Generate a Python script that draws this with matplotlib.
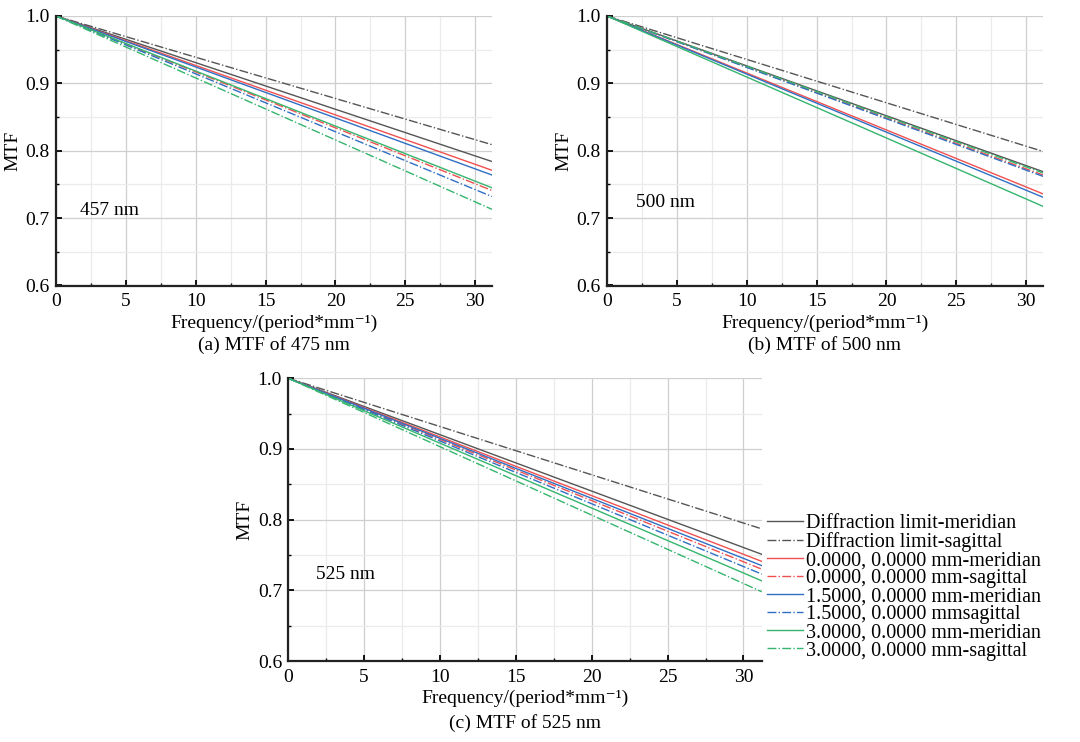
import numpy as np
import matplotlib
matplotlib.use('Agg')
import matplotlib.pyplot as plt
from matplotlib.ticker import MultipleLocator, FormatStrFormatter

plt.rcParams['font.family'] = ['Liberation Serif', 'DejaVu Serif']

# частоты (period/mm) – кривые почти прямые, поэтому концы
freq = [0, 31.2]

labels = ['Diffraction limit-meridian', 'Diffraction limit-sagittal',
          '0.0000, 0.0000 mm-meridian', '0.0000, 0.0000 mm-sagittal',
          '1.5000, 0.0000 mm-meridian', '1.5000, 0.0000 mmsagittal',
          '3.0000, 0.0000 mm-meridian', '3.0000, 0.0000 mm-sagittal']
colors = ['#555555', '#555555', '#f0504f', '#f0504f',
          '#2f6fc4', '#2f6fc4', '#35b56e', '#35b56e']
styles = ['-', '-.', '-', '-.', '-', '-.', '-', '-.']

# MTF на краю (31.2), порядок как в labels
mtf_475 = [0.784, 0.809, 0.771, 0.741, 0.764, 0.732, 0.745, 0.713]
mtf_500 = [0.769, 0.799, 0.736, 0.764, 0.731, 0.762, 0.7175, 0.767]
mtf_525 = [0.751, 0.787, 0.741, 0.730, 0.735, 0.723, 0.7135, 0.698]

panels = [
    (mtf_475, '457 nm', (1.7, 0.704), '(a) MTF of 475 nm',
     [56/1080, 1 - 285.5/742, 436/1080, (285.5 - 16)/742]),
    (mtf_500, '500 nm', (2.1, 0.716), '(b) MTF of 500 nm',
     [607/1080, 1 - 285.5/742, 436/1080, (285.5 - 16)/742]),
    (mtf_525, '525 nm', (1.8, 0.716), '(c) MTF of 525 nm',
     [288.3/1080, 1 - 661/742, 473.4/1080, (661 - 378.3)/742]),
]

fig = plt.figure(figsize=(10.8, 7.42), dpi=100)

for ends, wl, wl_pos, title, rect in panels:
    ax = fig.add_axes(rect)
    for end, c, ls, lab in zip(ends, colors, styles, labels):
        ax.plot(freq, [1.0, end], color=c, linestyle=ls, linewidth=1.0, label=lab)
    ax.set_xlim(0, 31.2)
    ax.set_ylim(0.6, 1.0)
    ax.xaxis.set_major_locator(MultipleLocator(5))
    ax.xaxis.set_minor_locator(MultipleLocator(2.5))
    ax.yaxis.set_major_locator(MultipleLocator(0.1))
    ax.yaxis.set_minor_locator(MultipleLocator(0.05))
    ax.yaxis.set_major_formatter(FormatStrFormatter('%.1f'))
    ax.grid(which='major', color='#cfcfcf', linewidth=0.9)
    ax.grid(which='minor', color='#ebebeb', linewidth=0.9)
    ax.set_axisbelow(True)
    for s in ['top', 'right']:
        ax.spines[s].set_visible(False)
    for s in ['left', 'bottom']:
        ax.spines[s].set_linewidth(1.6)
        ax.spines[s].set_color('#222222')
    ax.tick_params(which='both', direction='in', labelsize=14)
    ax.tick_params(axis='x', which='both', pad=5.5)
    ax.tick_params(axis='y', which='both', pad=4.5)
    ax.tick_params(which='major', length=4, width=1.3)
    ax.tick_params(which='minor', length=2.5, width=1.0)
    ax.set_ylabel('MTF', fontsize=14, labelpad=3)
    ax.set_xlabel('Frequency/(period*mm⁻¹)', fontsize=14, labelpad=3)
    ax.text(wl_pos[0], wl_pos[1], wl, fontsize=14)
    ax.text(0.5, -0.186, title, transform=ax.transAxes,
            ha='center', va='top', fontsize=14)
    last_ax = ax

handles, labs = last_ax.get_legend_handles_labels()
fig.legend(handles, labs, loc='upper left', bbox_to_anchor=(767/1080, 1 - 514/742),
           frameon=False, fontsize=14.5, handlelength=1.8, handletextpad=0.15,
           labelspacing=-0.05, borderpad=0, borderaxespad=0)

fig.savefig('out.png', dpi=100)
